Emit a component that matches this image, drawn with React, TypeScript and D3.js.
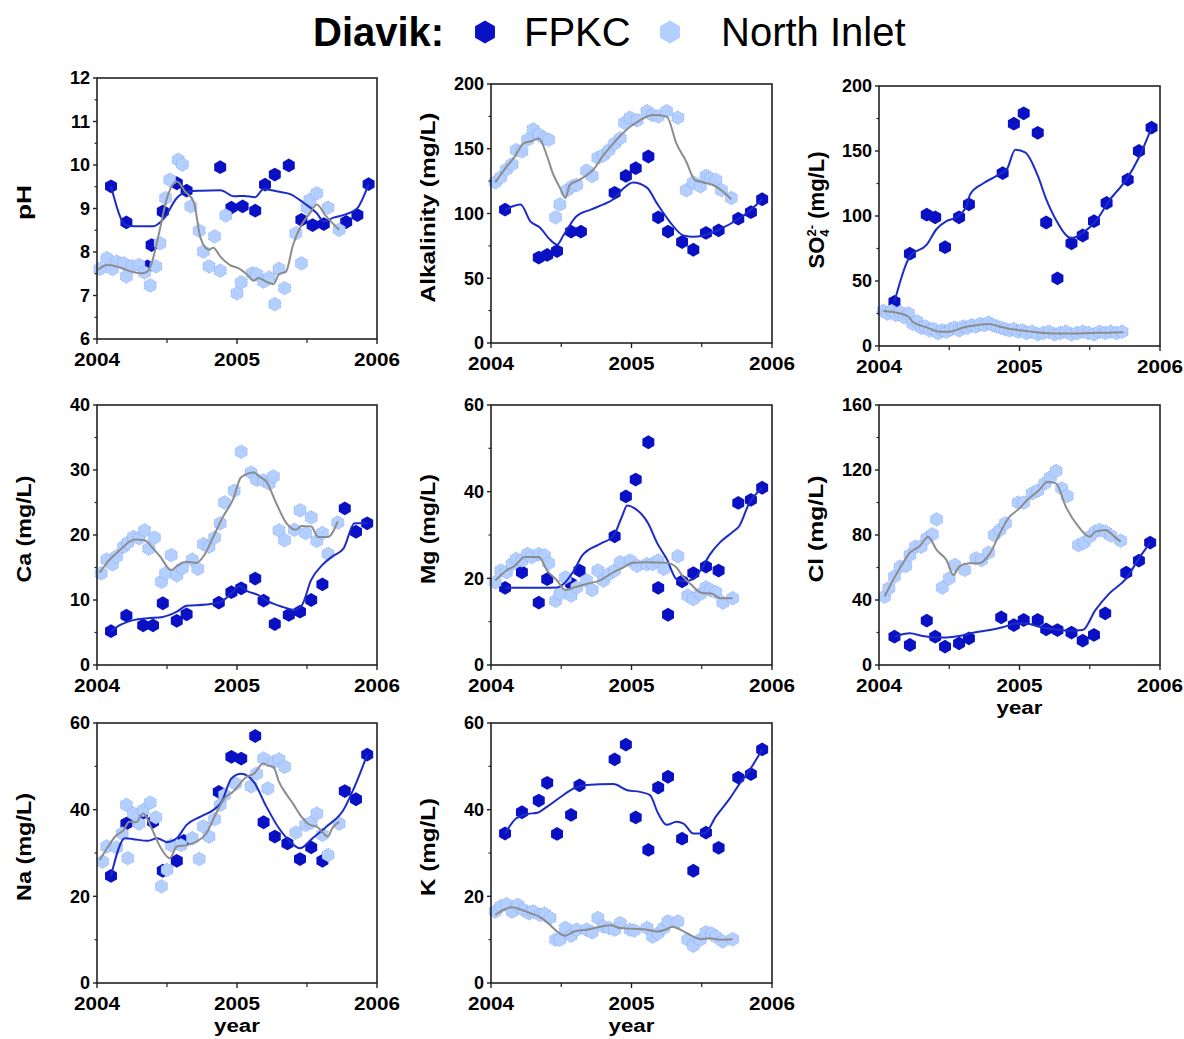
import React from 'react';
import * as d3 from 'd3';

// x values are decimal years, y values in the panel's unit
const yearTicks = ['2004', '2005', '2006'];

const phFpkcPts = [[2004.10, 9.51], [2004.21, 8.68], [2004.36, 7.67], [2004.39, 8.16], [2004.47, 8.93], [2004.57, 9.58], [2004.64, 9.41], [2004.88, 9.95], [2004.96, 9.02], [2005.04, 9.05], [2005.13, 8.95], [2005.20, 9.55], [2005.27, 9.78], [2005.37, 9.99], [2005.46, 8.74], [2005.54, 8.62], [2005.62, 8.64], [2005.78, 8.69], [2005.86, 8.85], [2005.94, 9.56]];
const phFpkcLine = [[2004.10, 9.51], [2004.21, 8.61], [2004.31, 8.59], [2004.40, 8.59], [2004.48, 8.78], [2004.57, 9.24], [2004.65, 9.39], [2004.74, 9.41], [2004.88, 9.42], [2004.98, 9.28], [2005.05, 9.29], [2005.13, 9.26], [2005.19, 9.45], [2005.29, 9.39], [2005.38, 9.33], [2005.48, 9.12], [2005.57, 8.89], [2005.62, 8.70], [2005.69, 8.79], [2005.78, 8.87], [2005.86, 9.01], [2005.94, 9.56]];
const phInletPts = [[2004.02, 7.61], [2004.07, 7.86], [2004.11, 7.61], [2004.14, 7.78], [2004.19, 7.74], [2004.21, 7.44], [2004.25, 7.67], [2004.30, 7.70], [2004.34, 7.53], [2004.38, 7.23], [2004.42, 7.67], [2004.45, 8.20], [2004.49, 9.24], [2004.52, 9.66], [2004.58, 10.12], [2004.61, 10.01], [2004.67, 9.05], [2004.73, 8.49], [2004.76, 8.01], [2004.80, 7.67], [2004.84, 8.36], [2004.88, 7.57], [2004.92, 8.84], [2005.00, 7.05], [2005.03, 7.30], [2005.11, 7.51], [2005.14, 7.49], [2005.19, 7.32], [2005.23, 7.41], [2005.27, 6.80], [2005.30, 7.61], [2005.34, 7.17], [2005.42, 8.43], [2005.46, 7.74], [2005.50, 9.02], [2005.52, 9.20], [2005.57, 9.35], [2005.65, 9.02], [2005.73, 8.51]];
const phInletLine = [[2004.01, 7.59], [2004.07, 7.70], [2004.14, 7.67], [2004.21, 7.59], [2004.31, 7.51], [2004.36, 7.55], [2004.39, 7.74], [2004.44, 8.39], [2004.50, 9.24], [2004.57, 9.62], [2004.63, 9.39], [2004.69, 9.16], [2004.74, 8.32], [2004.80, 8.05], [2004.83, 8.10], [2004.88, 7.90], [2004.95, 7.70], [2005.01, 7.63], [2005.07, 7.49], [2005.12, 7.34], [2005.15, 7.40], [2005.21, 7.32], [2005.26, 7.26], [2005.30, 7.49], [2005.35, 7.55], [2005.40, 8.16], [2005.46, 8.62], [2005.52, 8.89], [2005.57, 9.09], [2005.63, 8.85], [2005.73, 8.51]];

const alkFpkcPts = [[2004.10, 103], [2004.34, 66], [2004.40, 68], [2004.47, 71], [2004.57, 86], [2004.64, 86], [2004.88, 116], [2004.96, 129], [2005.03, 135], [2005.12, 144], [2005.19, 97], [2005.26, 86], [2005.36, 78], [2005.44, 72], [2005.53, 85], [2005.62, 87], [2005.76, 96], [2005.85, 101], [2005.93, 111]];
const alkFpkcLine = [[2004.10, 103], [2004.21, 107], [2004.28, 94], [2004.35, 89], [2004.41, 81], [2004.47, 76], [2004.52, 84], [2004.61, 98], [2004.71, 103], [2004.80, 107], [2004.87, 111], [2004.93, 118], [2005.01, 124], [2005.11, 120], [2005.18, 108], [2005.27, 94], [2005.37, 83], [2005.44, 82], [2005.51, 83], [2005.63, 88], [2005.75, 95], [2005.84, 102], [2005.93, 111]];
const alkInletPts = [[2004.03, 124], [2004.07, 128], [2004.11, 134], [2004.15, 138], [2004.18, 149], [2004.22, 148], [2004.26, 157], [2004.30, 165], [2004.34, 161], [2004.38, 158], [2004.41, 157], [2004.46, 97], [2004.49, 107], [2004.54, 118], [2004.58, 121], [2004.61, 122], [2004.68, 133], [2004.72, 129], [2004.76, 143], [2004.80, 145], [2004.84, 149], [2004.88, 154], [2004.92, 158], [2004.95, 170], [2004.99, 174], [2005.04, 172], [2005.11, 179], [2005.15, 176], [2005.19, 175], [2005.25, 179], [2005.33, 174], [2005.39, 118], [2005.44, 124], [2005.49, 121], [2005.53, 129], [2005.56, 127], [2005.60, 126], [2005.64, 118], [2005.71, 112]];
const alkInletLine = [[2004.03, 124], [2004.11, 136], [2004.17, 144], [2004.23, 154], [2004.29, 156], [2004.34, 158], [2004.40, 144], [2004.44, 131], [2004.49, 120], [2004.53, 112], [2004.56, 122], [2004.63, 126], [2004.73, 134], [2004.80, 145], [2004.87, 154], [2004.92, 160], [2004.99, 167], [2005.06, 172], [2005.15, 176], [2005.25, 175], [2005.32, 154], [2005.39, 140], [2005.45, 126], [2005.51, 124], [2005.58, 122], [2005.65, 117], [2005.71, 111]];

const soFpkcPts = [[2004.11, 34], [2004.22, 71], [2004.34, 101], [2004.40, 99], [2004.47, 76], [2004.57, 99], [2004.64, 109], [2004.88, 133], [2004.96, 171], [2005.03, 179], [2005.13, 164], [2005.19, 95], [2005.27, 52], [2005.37, 79], [2005.45, 85], [2005.53, 96], [2005.62, 110], [2005.77, 128], [2005.85, 150], [2005.94, 168]];
const soFpkcLine = [[2004.11, 34], [2004.22, 69], [2004.34, 78], [2004.41, 90], [2004.48, 96], [2004.55, 99], [2004.62, 107], [2004.65, 117], [2004.74, 125], [2004.84, 131], [2004.91, 136], [2004.97, 151], [2005.04, 149], [2005.13, 131], [2005.19, 113], [2005.26, 97], [2005.37, 83], [2005.45, 87], [2005.55, 97], [2005.64, 112], [2005.76, 128], [2005.85, 145], [2005.94, 168]];
const soInletPts = [[2004.03, 27], [2004.06, 25], [2004.09, 27], [2004.12, 24], [2004.15, 26], [2004.18, 22], [2004.21, 25], [2004.24, 17], [2004.27, 19], [2004.30, 14], [2004.33, 15], [2004.36, 12], [2004.39, 13], [2004.42, 10], [2004.45, 12], [2004.48, 11], [2004.51, 13], [2004.54, 14], [2004.57, 12], [2004.60, 15], [2004.63, 14], [2004.66, 16], [2004.69, 15], [2004.72, 17], [2004.75, 16], [2004.78, 18], [2004.81, 16], [2004.84, 15], [2004.87, 14], [2004.90, 13], [2004.93, 12], [2004.96, 13], [2004.99, 11], [2005.02, 12], [2005.05, 10], [2005.09, 11], [2005.13, 9], [2005.17, 10], [2005.21, 11], [2005.25, 9], [2005.29, 10], [2005.33, 11], [2005.37, 9], [2005.41, 10], [2005.45, 11], [2005.49, 10], [2005.53, 9], [2005.57, 11], [2005.61, 10], [2005.65, 11], [2005.69, 10], [2005.73, 11]];
const soInletLine = [[2004.03, 27], [2004.15, 25], [2004.21, 22.5], [2004.24, 18.7], [2004.34, 14.3], [2004.43, 11], [2004.50, 11], [2004.60, 14.3], [2004.69, 16], [2004.78, 17], [2004.86, 15], [2004.95, 12.8], [2005.03, 11.8], [2005.12, 10.5], [2005.24, 9.7], [2005.38, 9.7], [2005.50, 10], [2005.62, 10.2], [2005.74, 10.5]];

const caFpkcPts = [[2004.10, 5.2], [2004.21, 7.6], [2004.33, 6.1], [2004.40, 6.1], [2004.47, 9.5], [2004.57, 6.8], [2004.64, 7.8], [2004.87, 9.6], [2004.96, 11.2], [2005.03, 11.8], [2005.13, 13.3], [2005.19, 9.9], [2005.27, 6.3], [2005.37, 7.7], [2005.45, 8.2], [2005.53, 10], [2005.61, 12.4], [2005.77, 24.1], [2005.85, 20.5], [2005.93, 21.8]];
const caFpkcLine = [[2004.10, 5.2], [2004.17, 6.2], [2004.26, 6.9], [2004.36, 7.2], [2004.47, 7.4], [2004.57, 8.2], [2004.64, 9.1], [2004.78, 9.3], [2004.88, 9.7], [2004.95, 10.8], [2005.02, 12.1], [2005.08, 11.3], [2005.15, 10.8], [2005.23, 9.7], [2005.33, 8.9], [2005.40, 8.5], [2005.46, 9.1], [2005.53, 13.1], [2005.61, 15.4], [2005.68, 16.7], [2005.76, 17.9], [2005.84, 21.8], [2005.93, 21.8]];
const caInletPts = [[2004.03, 14.1], [2004.07, 16.2], [2004.11, 15.5], [2004.14, 16.7], [2004.19, 18.2], [2004.22, 18.8], [2004.26, 19.7], [2004.30, 19.5], [2004.34, 20.7], [2004.37, 17.9], [2004.41, 19.6], [2004.46, 12.8], [2004.49, 14.1], [2004.53, 16.9], [2004.57, 13.8], [2004.61, 14.9], [2004.68, 16.2], [2004.72, 14.8], [2004.76, 18.6], [2004.80, 18.2], [2004.84, 19.6], [2004.88, 21.8], [2004.91, 25.0], [2004.98, 26.8], [2005.03, 32.8], [2005.10, 29.6], [2005.14, 28.5], [2005.19, 28.4], [2005.23, 27.9], [2005.26, 29.0], [2005.30, 20.7], [2005.34, 19.2], [2005.41, 20.8], [2005.45, 23.8], [2005.49, 20.3], [2005.53, 22.7], [2005.57, 19.1], [2005.61, 20.3], [2005.65, 17.1], [2005.72, 21.9]];
const caInletLine = [[2004.02, 14.2], [2004.09, 16.2], [2004.17, 17.8], [2004.24, 19.1], [2004.28, 19.3], [2004.34, 19.2], [2004.39, 18.2], [2004.45, 16.7], [2004.53, 14.6], [2004.57, 15.2], [2004.64, 15.9], [2004.71, 15.7], [2004.76, 16.7], [2004.83, 19.7], [2004.90, 22.8], [2004.97, 25.4], [2005.03, 28.9], [2005.12, 29.6], [2005.16, 29.0], [2005.21, 28.2], [2005.28, 24.9], [2005.35, 21.9], [2005.42, 20.8], [2005.46, 21.4], [2005.53, 21.3], [2005.58, 19.7], [2005.65, 19.7], [2005.72, 22.1]];

const mgFpkcPts = [[2004.10, 17.8], [2004.22, 21.4], [2004.34, 14.4], [2004.40, 19.8], [2004.57, 18.8], [2004.63, 21.8], [2004.88, 29.7], [2004.96, 38.9], [2005.03, 42.8], [2005.12, 51.4], [2005.19, 17.8], [2005.26, 11.6], [2005.36, 19.3], [2005.44, 21.2], [2005.53, 22.7], [2005.62, 21.8], [2005.76, 37.4], [2005.85, 38.1], [2005.93, 40.9]];
const mgFpkcLine = [[2004.10, 17.8], [2004.21, 17.8], [2004.35, 17.8], [2004.47, 17.9], [2004.52, 18.8], [2004.59, 21.8], [2004.65, 25.3], [2004.78, 28.0], [2004.87, 29.7], [2004.93, 34.1], [2004.97, 36.8], [2005.02, 36.2], [2005.12, 32.6], [2005.18, 28.3], [2005.25, 24.5], [2005.32, 19.8], [2005.37, 19.3], [2005.44, 19.8], [2005.49, 21.8], [2005.56, 25.6], [2005.63, 28.3], [2005.72, 30.7], [2005.77, 32.2], [2005.83, 36.8], [2005.93, 40.9]];
const mgInletPts = [[2004.03, 19.1], [2004.07, 21.8], [2004.11, 21.4], [2004.15, 23.3], [2004.18, 24.5], [2004.22, 24.1], [2004.26, 25.6], [2004.29, 24.9], [2004.34, 25.6], [2004.38, 25.3], [2004.41, 23.5], [2004.46, 14.8], [2004.49, 16.4], [2004.53, 20.2], [2004.57, 16.0], [2004.61, 17.9], [2004.68, 19.5], [2004.72, 17.3], [2004.76, 21.8], [2004.80, 19.5], [2004.84, 21.0], [2004.88, 21.8], [2004.92, 23.7], [2004.99, 24.1], [2005.04, 22.9], [2005.11, 23.3], [2005.15, 23.3], [2005.19, 24.1], [2005.23, 22.2], [2005.33, 25.1], [2005.40, 16.0], [2005.44, 15.2], [2005.49, 16.4], [2005.53, 17.9], [2005.56, 17.3], [2005.60, 16.8], [2005.65, 14.4], [2005.72, 15.4]];
const mgInletLine = [[2004.03, 19.5], [2004.11, 21.8], [2004.17, 22.9], [2004.24, 24.9], [2004.34, 24.9], [2004.40, 21.8], [2004.47, 19.5], [2004.53, 17.3], [2004.59, 17.9], [2004.68, 18.7], [2004.78, 19.6], [2004.87, 21.4], [2004.94, 22.5], [2005.01, 23.6], [2005.11, 23.7], [2005.25, 23.6], [2005.32, 22.5], [2005.37, 20.2], [2005.42, 18.7], [2005.50, 16.6], [2005.57, 16.5], [2005.63, 15.4], [2005.72, 15.4]];

const clFpkcPts = [[2004.11, 17.4], [2004.22, 12.3], [2004.34, 27.3], [2004.40, 17.4], [2004.47, 11.3], [2004.57, 13.3], [2004.64, 16.4], [2004.87, 29.3], [2004.96, 24.6], [2005.03, 27.7], [2005.13, 27.7], [2005.19, 21.9], [2005.27, 21.5], [2005.37, 19.9], [2005.45, 15.0], [2005.53, 18.5], [2005.61, 31.8], [2005.76, 56.8], [2005.85, 64.2], [2005.93, 75.3]];
const clFpkcLine = [[2004.11, 17.4], [2004.22, 19.5], [2004.31, 17.8], [2004.41, 17.0], [2004.48, 17.0], [2004.57, 17.8], [2004.67, 19.9], [2004.79, 21.5], [2004.88, 23.2], [2004.98, 25.6], [2005.05, 25.6], [2005.14, 23.6], [2005.26, 21.9], [2005.35, 21.1], [2005.45, 21.5], [2005.54, 33.8], [2005.64, 44.1], [2005.76, 53.3], [2005.85, 65.6], [2005.93, 75.3]];
const clInletPts = [[2004.04, 42.1], [2004.07, 47.2], [2004.11, 54.4], [2004.15, 60.5], [2004.19, 60.9], [2004.22, 67.7], [2004.26, 72.8], [2004.30, 72.8], [2004.34, 77.9], [2004.38, 80.4], [2004.41, 89.6], [2004.45, 47.6], [2004.50, 53.3], [2004.54, 61.5], [2004.61, 58.5], [2004.69, 65.6], [2004.73, 64.6], [2004.78, 69.1], [2004.82, 80.0], [2004.86, 83.1], [2004.90, 87.2], [2004.99, 99.9], [2005.03, 99.9], [2005.09, 105.6], [2005.13, 107.3], [2005.18, 111.8], [2005.22, 115.5], [2005.26, 119.4], [2005.30, 108.7], [2005.34, 104.0], [2005.42, 73.8], [2005.46, 75.3], [2005.50, 79.0], [2005.54, 82.1], [2005.57, 83.1], [2005.61, 82.1], [2005.65, 79.6], [2005.72, 76.5]];
const clInletLine = [[2004.04, 42.1], [2004.10, 52.3], [2004.17, 62.6], [2004.22, 69.1], [2004.29, 73.2], [2004.35, 79.0], [2004.41, 70.8], [2004.48, 64.6], [2004.53, 55.4], [2004.57, 60.5], [2004.64, 62.6], [2004.71, 62.6], [2004.79, 68.7], [2004.86, 81.0], [2004.92, 90.3], [2005.00, 96.4], [2005.05, 101.1], [2005.14, 107.7], [2005.20, 112.8], [2005.26, 111.8], [2005.33, 97.4], [2005.42, 85.1], [2005.50, 79.0], [2005.54, 82.1], [2005.61, 83.1], [2005.69, 77.9], [2005.72, 75.9]];

const naFpkcPts = [[2004.10, 24.7], [2004.21, 36.8], [2004.32, 39.1], [2004.40, 37.2], [2004.47, 25.9], [2004.57, 28.2], [2004.62, 32.8], [2004.87, 44.1], [2004.96, 52.2], [2005.03, 51.8], [2005.13, 57.0], [2005.19, 37.1], [2005.27, 33.8], [2005.36, 32.2], [2005.45, 28.6], [2005.53, 31.3], [2005.61, 28.2], [2005.77, 44.3], [2005.85, 42.4], [2005.93, 52.7]];
const naFpkcLine = [[2004.10, 24.7], [2004.20, 33.4], [2004.26, 33.2], [2004.36, 32.8], [2004.43, 33.4], [2004.50, 32.5], [2004.57, 33.4], [2004.64, 36.5], [2004.74, 38.4], [2004.83, 39.9], [2004.89, 41.8], [2004.96, 47.2], [2005.03, 48.3], [2005.12, 46.4], [2005.21, 40.7], [2005.30, 35.7], [2005.38, 32.6], [2005.45, 31.1], [2005.54, 33.4], [2005.64, 36.1], [2005.76, 39.9], [2005.84, 45.3], [2005.93, 52.7]];
const naInletPts = [[2004.04, 28.0], [2004.07, 31.5], [2004.14, 31.3], [2004.18, 34.5], [2004.21, 41.1], [2004.22, 28.8], [2004.26, 39.1], [2004.30, 36.8], [2004.33, 39.9], [2004.38, 41.6], [2004.42, 38.2], [2004.46, 22.3], [2004.50, 26.1], [2004.53, 31.8], [2004.60, 31.8], [2004.68, 33.4], [2004.73, 28.6], [2004.76, 36.1], [2004.80, 33.8], [2004.84, 37.8], [2004.88, 41.1], [2004.91, 43.4], [2004.99, 46.0], [2005.10, 45.4], [2005.14, 48.3], [2005.19, 51.8], [2005.22, 44.9], [2005.26, 51.0], [2005.30, 51.6], [2005.34, 49.9], [2005.42, 34.7], [2005.49, 36.5], [2005.53, 37.0], [2005.57, 39.1], [2005.61, 34.2], [2005.65, 29.5], [2005.73, 36.8]];
const naInletLine = [[2004.02, 28.4], [2004.08, 31.5], [2004.13, 33.8], [2004.19, 35.3], [2004.23, 37.2], [2004.28, 37.1], [2004.33, 39.1], [2004.39, 35.7], [2004.45, 31.5], [2004.52, 28.8], [2004.57, 31.5], [2004.64, 31.8], [2004.71, 32.6], [2004.78, 34.5], [2004.85, 39.1], [2004.91, 42.6], [2004.97, 44.1], [2005.07, 47.6], [2005.12, 48.3], [2005.19, 50.7], [2005.21, 50.3], [2005.26, 49.9], [2005.30, 46.4], [2005.35, 43.7], [2005.40, 41.4], [2005.46, 38.4], [2005.52, 36.5], [2005.57, 36.1], [2005.65, 33.8], [2005.68, 35.7], [2005.73, 37.2]];

const kFpkcPts = [[2004.10, 34.5], [2004.22, 39.4], [2004.34, 42.1], [2004.40, 46.2], [2004.47, 34.4], [2004.57, 38.8], [2004.63, 45.6], [2004.88, 51.6], [2004.96, 55.0], [2005.03, 38.2], [2005.12, 30.7], [2005.19, 45.1], [2005.26, 47.6], [2005.36, 33.3], [2005.44, 25.9], [2005.53, 34.7], [2005.62, 31.2], [2005.76, 47.4], [2005.85, 48.2], [2005.93, 53.9]];
const kFpkcLine = [[2004.10, 34.5], [2004.18, 38.0], [2004.26, 39.0], [2004.33, 39.3], [2004.40, 40.7], [2004.49, 42.8], [2004.59, 44.9], [2004.68, 45.7], [2004.87, 45.9], [2004.97, 44.5], [2005.06, 44.1], [2005.13, 43.4], [2005.19, 39.1], [2005.25, 36.5], [2005.32, 37.2], [2005.37, 36.8], [2005.44, 34.5], [2005.52, 34.5], [2005.60, 38.4], [2005.70, 42.6], [2005.77, 46.0], [2005.84, 49.1], [2005.93, 53.9]];
const kInletPts = [[2004.03, 16.5], [2004.07, 17.7], [2004.11, 18.2], [2004.15, 16.5], [2004.19, 18.0], [2004.23, 16.9], [2004.27, 16.1], [2004.30, 16.5], [2004.35, 15.7], [2004.38, 16.0], [2004.42, 15.0], [2004.46, 10.0], [2004.49, 10.0], [2004.53, 12.7], [2004.57, 10.9], [2004.61, 12.3], [2004.68, 12.3], [2004.72, 11.7], [2004.76, 15.0], [2004.80, 13.0], [2004.84, 12.7], [2004.88, 12.3], [2004.92, 13.8], [2004.99, 12.3], [2005.02, 12.1], [2005.11, 12.7], [2005.15, 10.7], [2005.19, 11.5], [2005.23, 12.7], [2005.26, 14.2], [2005.33, 14.2], [2005.40, 10.0], [2005.44, 8.6], [2005.49, 10.0], [2005.53, 11.7], [2005.57, 11.4], [2005.60, 10.7], [2005.65, 9.6], [2005.72, 10.1]];
const kInletLine = [[2004.03, 15.7], [2004.09, 16.9], [2004.15, 17.5], [2004.21, 17.0], [2004.28, 16.1], [2004.35, 15.2], [2004.41, 13.7], [2004.47, 11.9], [2004.53, 10.9], [2004.59, 11.9], [2004.68, 12.3], [2004.78, 13.0], [2004.85, 13.3], [2004.92, 12.7], [2005.01, 12.5], [2005.11, 12.3], [2005.18, 11.9], [2005.25, 12.4], [2005.29, 13.0], [2005.37, 11.9], [2005.44, 10.7], [2005.50, 10.1], [2005.56, 10.3], [2005.63, 10.0], [2005.72, 10.1]];

const DARK = '#0a10c4';
const DARK_LINE = '#1c2cc8';
const LIGHT = '#b3cfff';
const LIGHT_EDGE = '#6f8ff0';
const GREY = '#8c8c8c';
const FONT = 'Arial, "Liberation Sans", sans-serif';

const cols = [[97, 377], [491, 772], [879, 1160]];

const panels = [
  { title: 'pH', len: 35, domain: [6, 12], step: 1, col: 0, top: 78, bottom: 339, fp: phFpkcPts, fpLine: phFpkcLine, ni: phInletPts, niLine: phInletLine },
  { title: 'Alkalinity (mg/L)', len: 190, domain: [0, 200], step: 50, col: 1, top: 84, bottom: 343, fp: alkFpkcPts, fpLine: alkFpkcLine, ni: alkInletPts, niLine: alkInletLine },
  { title: 'SO4', len: 0, domain: [0, 200], step: 50, col: 2, top: 86, bottom: 346, fp: soFpkcPts, fpLine: soFpkcLine, ni: soInletPts, niLine: soInletLine },
  { title: 'Ca (mg/L)', len: 107, domain: [0, 40], step: 10, col: 0, top: 405, bottom: 665, fp: caFpkcPts, fpLine: caFpkcLine, ni: caInletPts, niLine: caInletLine },
  { title: 'Mg (mg/L)', len: 110, domain: [0, 60], step: 20, col: 1, top: 405, bottom: 665, fp: mgFpkcPts, fpLine: mgFpkcLine, ni: mgInletPts, niLine: mgInletLine },
  { title: 'Cl (mg/L)', len: 107, domain: [0, 160], step: 40, col: 2, top: 405, bottom: 665, fp: clFpkcPts, fpLine: clFpkcLine, ni: clInletPts, niLine: clInletLine, year: true },
  { title: 'Na (mg/L)', len: 108, domain: [0, 60], step: 20, col: 0, top: 723, bottom: 983, fp: naFpkcPts, fpLine: naFpkcLine, ni: naInletPts, niLine: naInletLine, year: true },
  { title: 'K (mg/L)', len: 98, domain: [0, 60], step: 20, col: 1, top: 723, bottom: 983, fp: kFpkcPts, fpLine: kFpkcLine, ni: kInletPts, niLine: kInletLine, year: true },
];

const hex = (r: number) =>
  d3.range(6).map((i) => {
    const a = (Math.PI / 3) * i - Math.PI / 2;
    return `${i ? 'L' : 'M'}${(r * Math.cos(a)).toFixed(2)},${(r * Math.sin(a)).toFixed(2)}`;
  }).join('') + 'Z';

const marker = hex(6.9);

const Panel = ({ p }: { p: any }) => {
  const [x0, x1] = cols[p.col];
  const x = d3.scaleLinear().domain([2004, 2006]).range([x0, x1]);
  const y = d3.scaleLinear().domain(p.domain).range([p.bottom, p.top]);
  const line = d3.line<number[]>().x((d) => x(d[0])).y((d) => y(d[1])).curve(d3.curveMonotoneX);
  const major = d3.range(p.domain[0], p.domain[1] + p.step / 2, p.step);
  const minor = d3.range(p.domain[0] + p.step / 2, p.domain[1], p.step);
  const tx = x0 - (p.col === 0 ? 74 : 64);
  const ty = (p.top + p.bottom) / 2 - 6;

  return (
    <g>
      {p.fp.map((d: number[], i: number) => (
        <path key={'f' + i} d={marker} transform={`translate(${x(d[0])},${y(d[1])})`} fill={DARK} />
      ))}
      {p.ni.map((d: number[], i: number) => (
        <path key={'n' + i} d={marker} transform={`translate(${x(d[0])},${y(d[1])})`} fill={LIGHT}
          stroke={LIGHT_EDGE} strokeWidth={0.7} strokeDasharray="1 1.3" />
      ))}
      <path d={line(p.fpLine) || ''} fill="none" stroke={DARK_LINE} strokeWidth={2} />
      <path d={line(p.niLine) || ''} fill="none" stroke={GREY} strokeWidth={2} />

      <rect x={x0} y={p.top} width={x1 - x0} height={p.bottom - p.top} fill="none" stroke="#222" strokeWidth={1.6} />

      {major.map((v: number) => (
        <g key={'ym' + v}>
          <line x1={x0 - 4} x2={x0} y1={y(v)} y2={y(v)} stroke="#222" strokeWidth={1.4} />
          <text x={x0 - 7} y={y(v)} dy="0.36em" textAnchor="end" fontSize={18} fontWeight="bold" fontFamily={FONT}>{v}</text>
        </g>
      ))}
      {minor.map((v: number) => (
        <line key={'yn' + v} x1={x0 - 2.5} x2={x0} y1={y(v)} y2={y(v)} stroke="#222" strokeWidth={1.2} />
      ))}
      {yearTicks.map((t) => (
        <g key={'x' + t}>
          <line x1={x(+t)} x2={x(+t)} y1={p.bottom} y2={p.bottom + 5} stroke="#222" strokeWidth={1.4} />
          <text x={x(+t)} y={p.bottom + 27} textAnchor="middle" fontSize={17.5} fontWeight="bold" fontFamily={FONT}
            textLength={46} lengthAdjust="spacingAndGlyphs">{t}</text>
        </g>
      ))}
      {[2004.5, 2005.5].map((t) => (
        <line key={'xm' + t} x1={x(t)} x2={x(t)} y1={p.bottom} y2={p.bottom + 4} stroke="#222" strokeWidth={1.2} />
      ))}

      {p.title === 'SO4' ? (
        <text transform={`translate(${tx + 1},${ty}) rotate(-90)`} textAnchor="middle" dy="0.36em"
          fontSize={22} fontWeight="bold" fontFamily={FONT}>
          SO<tspan fontSize={13} dy={5}>4</tspan>
          <tspan fontSize={13} dx={-7} dy={-13}>2-</tspan>
          <tspan dy={8}> (mg/L)</tspan>
        </text>
      ) : (
        <text transform={`translate(${tx},${ty}) rotate(-90)`} textAnchor="middle" dy="0.36em"
          fontSize={21} fontWeight="bold" fontFamily={FONT} textLength={p.len} lengthAdjust="spacingAndGlyphs">
          {p.title}
        </text>
      )}
      {p.year && (
        <text x={(x0 + x1) / 2} y={p.bottom + 49} textAnchor="middle" fontSize={18} fontWeight="bold"
          fontFamily={FONT} textLength={46} lengthAdjust="spacingAndGlyphs">year</text>
      )}
    </g>
  );
};

const App = () => {
  const legendHex = hex(11.5);
  return (
    <svg width={1184} height={1039} style={{ position: 'absolute', left: 0, top: 0, background: '#fff' }}>
      <text x={313} y={46} fontSize={40} fontWeight="bold" fontFamily={FONT}>Diavik:</text>
      <path d={legendHex} transform="translate(485,32)" fill={DARK} />
      <text x={524} y={46} fontSize={40} fontFamily={FONT}>FPKC</text>
      <path d={legendHex} transform="translate(670,32)" fill={LIGHT} />
      <text x={721} y={46} fontSize={40} fontFamily={FONT}>North Inlet</text>
      {panels.map((p) => <Panel key={p.title} p={p} />)}
    </svg>
  );
};

export default App;
